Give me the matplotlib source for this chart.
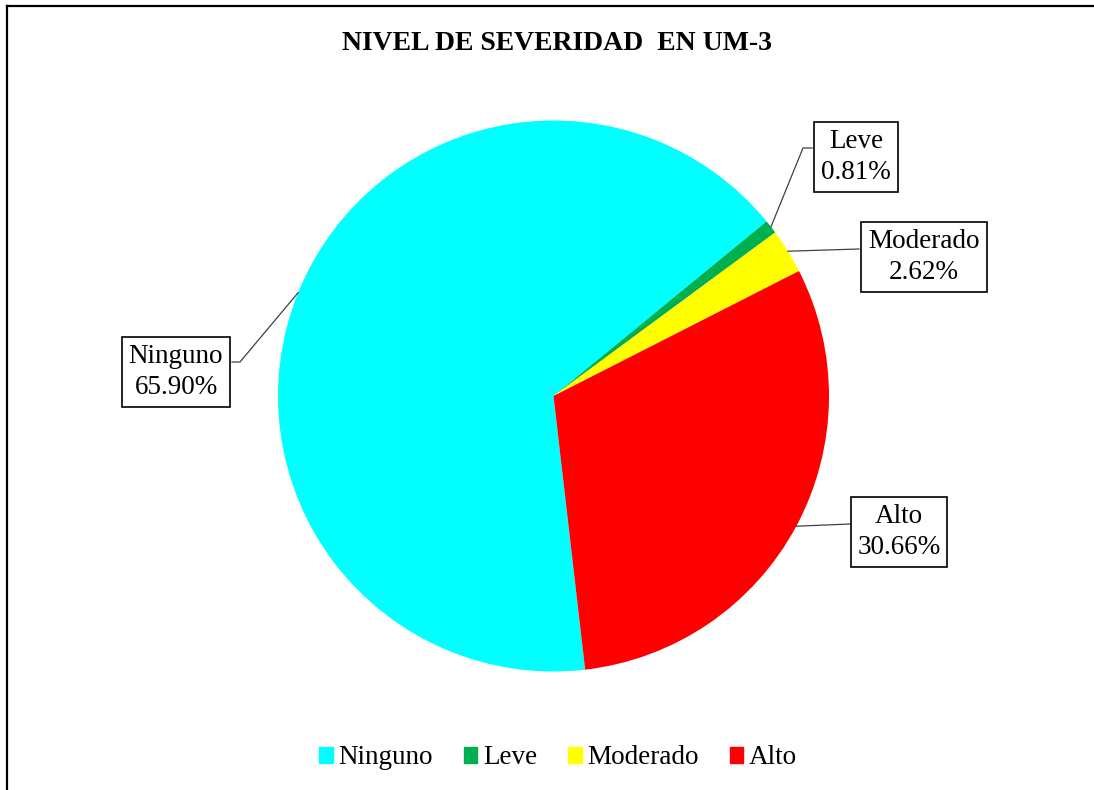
import numpy as np
import matplotlib
matplotlib.use("Agg")
import matplotlib.pyplot as plt
from matplotlib.lines import Line2D

plt.rcParams['font.family'] = ['Liberation Serif', 'DejaVu Serif']

categorias = ["Ninguno", "Leve", "Moderado", "Alto"]
porcentajes = [65.90, 0.81, 2.62, 30.66]
colores = ["#00FFFF", "#00B050", "#FFFF00", "#FF0000"]
titulo = "NIVEL DE SEVERIDAD  EN UM-3"

W, H = 1094, 790
fig = plt.figure(figsize=(W / 100, H / 100), dpi=100)
ax = fig.add_axes([0, 0, 1, 1])

cx, cy, r = 553.5, H - 396, 275.5
wedges, _ = ax.pie(porcentajes, colors=colores, startangle=90 - 173.4,
                   counterclock=False, center=(cx, cy), radius=r,
                   wedgeprops=dict(linewidth=0))
ax.set_xlim(0, W)
ax.set_ylim(0, H)
ax.set_aspect('auto')
ax.axis('off')

# label box centres and leader-line elbows (image pixel coords)
cajas = [(176, 372), (856, 157), (924, 257), (899, 532)]
codos = [[(240, 362), (232, 362)], [(803, 148), (812, 148)],
         [(859, 249)], [(850, 524)]]

for w, cat, p, (bx, by), codo in zip(wedges, categorias, porcentajes, cajas, codos):
    ang = np.deg2rad((w.theta1 + w.theta2) / 2)
    xs = [cx + r * np.cos(ang)] + [c[0] for c in codo]
    ys = [cy + r * np.sin(ang)] + [H - c[1] for c in codo]
    ax.plot(xs, ys, color="#404040", lw=0.9, zorder=3)
    ax.text(bx, H - by, f"{cat}\n{p:.2f}%", ha="center", va="center",
            fontsize=19.5, linespacing=1.35, zorder=4,
            bbox=dict(boxstyle="square,pad=0.25", fc="white", ec="black", lw=1.2))

fig.text(556.5 / W, 1 - 43 / H, titulo, ha="center", va="center",
         fontsize=20, fontweight="bold")

handles = [plt.Rectangle((0, 0), 1, 1, color=c) for c in colores]
fig.legend(handles, categorias, loc="center", bbox_to_anchor=(558 / W, 1 - 758 / H),
           ncol=4, frameon=False, fontsize=19.5, handlelength=0.5, handleheight=0.5,
           handletextpad=0.2, columnspacing=1.15, borderaxespad=0)

# chart border (cut off at right and bottom)
fig.add_artist(Line2D([7 / W, 7 / W], [0, 1 - 6 / H], color="black", lw=1.6))
fig.add_artist(Line2D([7 / W, 1], [1 - 6 / H, 1 - 6 / H], color="black", lw=1.6))

fig.savefig("out.png", dpi=100)
